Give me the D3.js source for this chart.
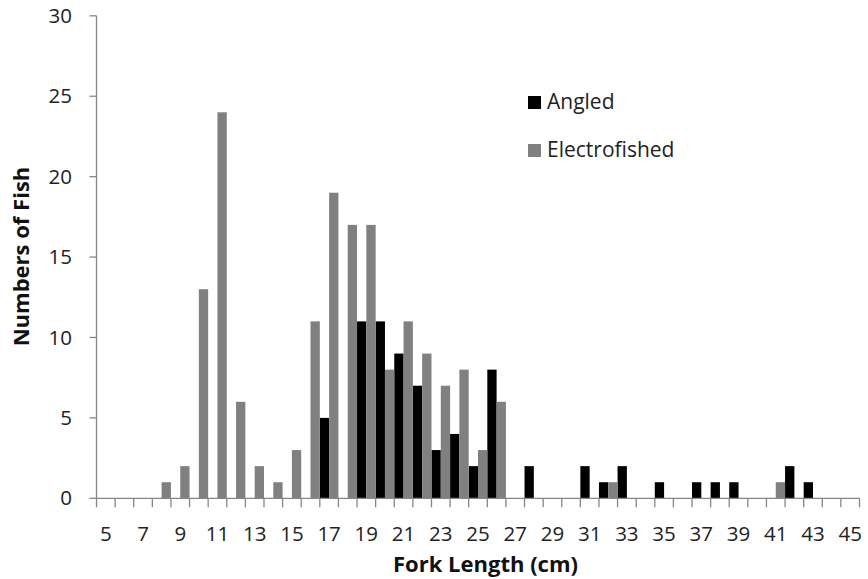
<!DOCTYPE html>
<html><head><meta charset="utf-8">
<script src="https://cdn.jsdelivr.net/npm/d3@7"></script>
<style>body{margin:0;background:#fff;} text{font-family:"Open Sans",sans-serif;}</style>
</head><body>
<svg id="chart" width="868" height="579"></svg>
<script>
const lengths = d3.range(5, 46); // categories 5..45 cm
const angled = [0,0,0,0,0,0,0,0,0,0,0,0,5,0,11,11,9,7,3,4,2,8,0,2,0,0,2,1,2,0,1,0,1,1,1,0,0,2,1,0,0];
const electrofished = [0,0,0,1,2,13,24,6,2,1,3,11,19,17,17,8,11,9,7,8,3,6,0,0,0,0,0,1,0,0,0,0,0,0,0,0,1,0,0,0,0];
const seriesNames = ["Angled","Electrofished"];
const seriesColors = ["#000000","#808080"];
const yTicks = [0,5,10,15,20,25,30];
const xTickLabels = lengths.filter(v => v % 2 === 1);

const svg = d3.select("#chart");
const m = {left:96.5, right:868-859.5, top:15.8, bottom:579-498.3};
const W = 868, H = 579;
const x = d3.scaleBand().domain(lengths).range([m.left, W-m.right]).padding(0);
const xs = d3.scaleBand().domain(seriesNames).range([0, x.bandwidth()]).padding(0);
const y = d3.scaleLinear().domain([0,30]).range([H-m.bottom, m.top]);
const axisColor = "#868686";

// bars
const data = [angled, electrofished];
seriesNames.forEach((s, si) => {
  svg.append("g").selectAll("rect").data(lengths.map((L,i)=>({L, v:data[si][i]})).filter(d=>d.v>0))
    .join("rect")
    .attr("x", d => x(d.L) + xs(s))
    .attr("width", xs.bandwidth())
    .attr("y", d => y(d.v))
    .attr("height", d => y(0) - y(d.v))
    .attr("fill", seriesColors[si]);
});

// y axis
const gy = svg.append("g");
gy.append("line").attr("x1", m.left).attr("x2", m.left).attr("y1", y(0)).attr("y2", y(30)).attr("stroke", axisColor).attr("stroke-width",1.3);
yTicks.forEach(t => {
  gy.append("line").attr("x1", m.left-7).attr("x2", m.left).attr("y1", y(t)).attr("y2", y(t)).attr("stroke", axisColor).attr("stroke-width",1.3);
  gy.append("text").attr("x", 72).attr("y", y(t)).attr("dy","0.35em").attr("text-anchor","end")
    .attr("font-size", 20.5).attr("fill","#222").text(t);
});

// x axis
const gx = svg.append("g");
gx.append("line").attr("x1", m.left).attr("x2", W-m.right).attr("y1", y(0)).attr("y2", y(0)).attr("stroke", axisColor).attr("stroke-width",1.3);
const bounds = lengths.map(L => x(L)).concat([x(lengths[lengths.length-1]) + x.bandwidth()]);
bounds.forEach(b => {
  gx.append("line").attr("x1", b).attr("x2", b).attr("y1", y(0)).attr("y2", y(0)+9).attr("stroke", axisColor).attr("stroke-width",1.3);
});
xTickLabels.forEach(L => {
  gx.append("text").attr("x", x(L) + x.bandwidth()/2).attr("y", 541).attr("text-anchor","middle")
    .attr("font-size", 20.5).attr("fill","#222").text(L);
});

// axis titles
svg.append("text").attr("x", 485.5).attr("y", 572).attr("text-anchor","middle")
  .attr("font-size", 22).attr("font-weight","bold").attr("fill","#111").text("Fork Length (cm)");
svg.append("text").attr("transform", `translate(28.5,256.5) rotate(-90)`).attr("text-anchor","middle")
  .attr("font-size", 22).attr("font-weight","bold").attr("fill","#111").text("Numbers of Fish");

// legend
const leg = svg.append("g");
seriesNames.forEach((s, i) => {
  const yy = 102 + i*48;
  leg.append("rect").attr("x", 528).attr("y", yy-6).attr("width", 13).attr("height", 13).attr("fill", seriesColors[i]);
  leg.append("text").attr("x", 547).attr("y", yy).attr("dy","0.35em").attr("font-size", 21).attr("fill","#222").text(s);
});
</script>
</body></html>
